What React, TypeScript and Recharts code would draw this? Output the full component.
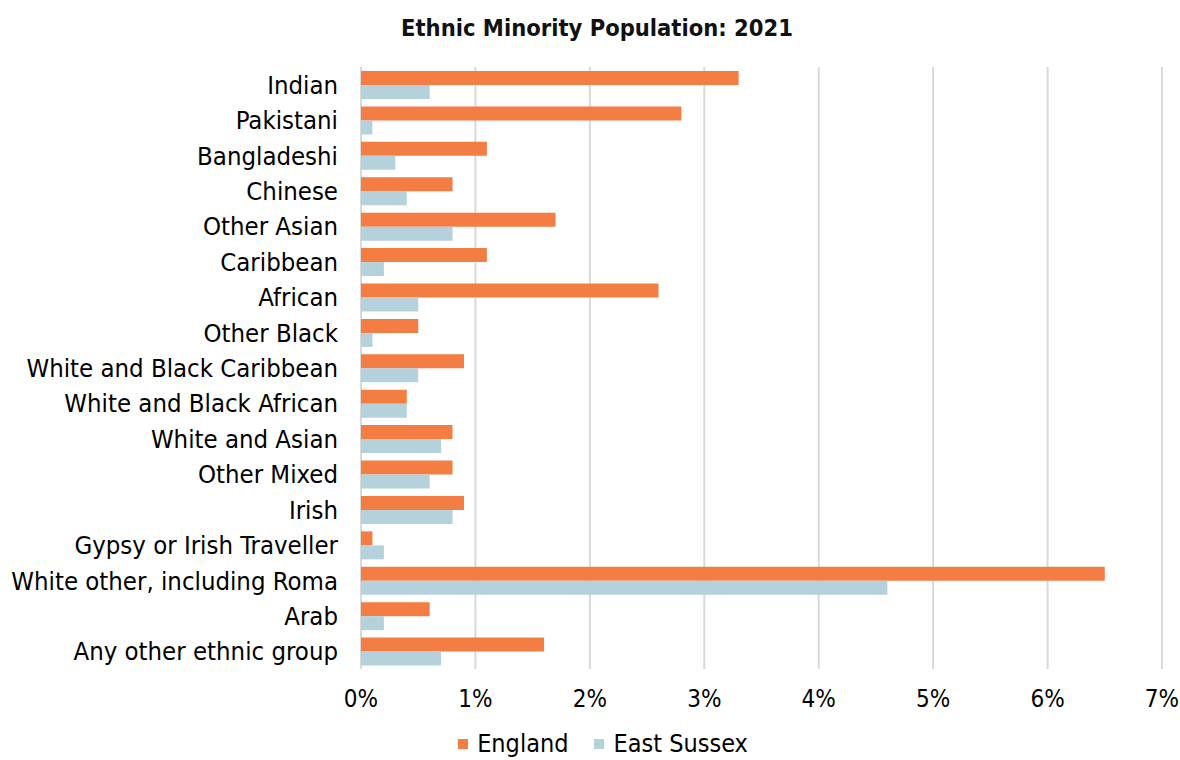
import { BarChart, Bar, XAxis, YAxis, CartesianGrid, Legend } from 'recharts';

const categories = [
  'Indian',
  'Pakistani',
  'Bangladeshi',
  'Chinese',
  'Other Asian',
  'Caribbean',
  'African',
  'Other Black',
  'White and Black Caribbean',
  'White and Black African',
  'White and Asian',
  'Other Mixed',
  'Irish',
  'Gypsy or Irish Traveller',
  'White other, including Roma',
  'Arab',
  'Any other ethnic group',
];

const england = [3.3, 2.8, 1.1, 0.8, 1.7, 1.1, 2.6, 0.5, 0.9, 0.4, 0.8, 0.8, 0.9, 0.1, 6.5, 0.6, 1.6];
const eastSussex = [0.6, 0.1, 0.3, 0.4, 0.8, 0.2, 0.5, 0.1, 0.5, 0.4, 0.7, 0.6, 0.8, 0.2, 4.6, 0.2, 0.7];
const xTicks = [0, 1, 2, 3, 4, 5, 6, 7];

const series = [
  { key: 'england', name: 'England', color: '#F47D44' },
  { key: 'eastSussex', name: 'East Sussex', color: '#B4D1DC' },
];

const data = categories.map((name, i) => ({ name, england: england[i], eastSussex: eastSussex[i] }));

const FONT = '"DejaVu Sans Condensed", "DejaVu Sans", sans-serif';

const renderLegend = () => (
  <div
    style={{
      display: 'flex',
      justifyContent: 'center',
      gap: 26,
      fontFamily: FONT,
      fontSize: 25,
      color: '#000',
      paddingLeft: 26,
      lineHeight: '30px',
    }}
  >
    {series.map((s) => (
      <span key={s.key} style={{ display: 'flex', alignItems: 'center' }}>
        <span style={{ width: 10, height: 10, background: s.color, marginRight: 9 }} />
        {s.name}
      </span>
    ))}
  </div>
);

export default function App() {
  return (
    <div style={{ position: 'absolute', left: 0, top: 0, width: 1180, height: 760, background: '#fff', overflow: 'hidden' }}>
      <div
        style={{
          position: 'absolute',
          top: 14,
          left: 0,
          width: 1194,
          textAlign: 'center',
          fontFamily: FONT,
          fontWeight: 'bold',
          fontSize: 23.5,
          color: '#111',
        }}
      >
        Ethnic Minority Population: 2021
      </div>
      <BarChart
        width={1180}
        height={760}
        data={data}
        layout="vertical"
        margin={{ top: 67, right: 18, left: 0, bottom: 61 }}
        barGap={0}
      >
        <CartesianGrid horizontal={false} stroke="#d9d9d9" strokeWidth={2} />
        <XAxis
          type="number"
          domain={[0, 7]}
          ticks={xTicks}
          tickFormatter={(v) => `${v}%`}
          axisLine={false}
          tickLine={false}
          tickSize={0}
          tickMargin={21}
          height={30}
          tick={{ fontSize: 24, fill: '#000', fontFamily: FONT }}
        />
        <YAxis
          type="category"
          dataKey="name"
          width={361}
          axisLine={false}
          tickLine={false}
          tickSize={0}
          tickMargin={23}
          interval={0}
          tick={{ fontSize: 25.5, fill: '#000', fontFamily: FONT }}
        />
        <Legend
          layout="horizontal"
          verticalAlign="middle"
          align="center"
          content={renderLegend}
          wrapperStyle={{ top: 729, left: 0, width: 1180 }}
        />
        {series.map((s) => (
          <Bar key={s.key} dataKey={s.key} name={s.name} fill={s.color} barSize={14} isAnimationActive={false} />
        ))}
      </BarChart>
    </div>
  );
}
